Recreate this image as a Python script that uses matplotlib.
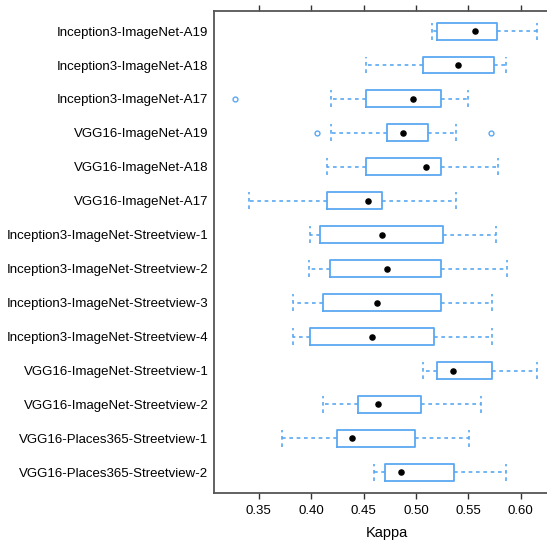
import numpy as np
import matplotlib.pyplot as plt

plt.rcParams['font.family'] = ['Liberation Sans', 'DejaVu Sans']

# models, top row first
labels = [
    "Inception3-ImageNet-A19",
    "Inception3-ImageNet-A18",
    "Inception3-ImageNet-A17",
    "VGG16-ImageNet-A19",
    "VGG16-ImageNet-A18",
    "VGG16-ImageNet-A17",
    "Inception3-ImageNet-Streetview-1",
    "Inception3-ImageNet-Streetview-2",
    "Inception3-ImageNet-Streetview-3",
    "Inception3-ImageNet-Streetview-4",
    "VGG16-ImageNet-Streetview-1",
    "VGG16-ImageNet-Streetview-2",
    "VGG16-Places365-Streetview-1",
    "VGG16-Places365-Streetview-2",
]
whisker_lo = [0.515, 0.452, 0.419, 0.419, 0.415, 0.341, 0.399, 0.398, 0.383, 0.383, 0.507, 0.411, 0.372, 0.460]
q1 = [0.520, 0.507, 0.452, 0.472, 0.452, 0.415, 0.408, 0.418, 0.411, 0.399, 0.520, 0.445, 0.425, 0.470]
median = [0.556, 0.540, 0.497, 0.488, 0.510, 0.454, 0.468, 0.472, 0.463, 0.458, 0.535, 0.464, 0.439, 0.486]
q3 = [0.577, 0.575, 0.524, 0.512, 0.524, 0.468, 0.526, 0.524, 0.524, 0.517, 0.573, 0.505, 0.499, 0.536]
whisker_hi = [0.616, 0.586, 0.550, 0.538, 0.578, 0.538, 0.576, 0.587, 0.573, 0.573, 0.616, 0.562, 0.551, 0.586]
outliers = [[], [], [0.327], [0.406, 0.572], [], [], [], [], [], [], [], [], [], []]

xticks = [0.35, 0.40, 0.45, 0.50, 0.55, 0.60]

blue = '#5aa8f2'
n = len(labels)
positions = np.arange(n, 0, -1)

stats = []
for i in range(n):
    stats.append(dict(label=labels[i], whislo=whisker_lo[i], q1=q1[i], med=median[i],
                      q3=q3[i], whishi=whisker_hi[i], mean=median[i], fliers=outliers[i]))

W, H = 547, 545
fig = plt.figure(figsize=(W / 100, H / 100), dpi=100)
left, right, top, bottom = 214, 559, 10.7, 492.7
ax = fig.add_axes([left / W, 1 - bottom / H, (right - left) / W, (bottom - top) / H])

dash = (0, (2.2, 2.2))
ax.bxp(stats, positions=positions, orientation='horizontal', widths=0.5, capwidths=0.5,
       showmeans=True, patch_artist=False,
       boxprops=dict(color=blue, linewidth=1.3),
       whiskerprops=dict(color=blue, linewidth=1.2, linestyle=dash),
       capprops=dict(color=blue, linewidth=1.2, linestyle=dash),
       medianprops=dict(linewidth=0, alpha=0),
       meanprops=dict(marker='o', markerfacecolor='black', markeredgecolor='black', markersize=3.7),
       flierprops=dict(marker='o', markerfacecolor='none', markeredgecolor=blue,
                       markersize=3.5, markeredgewidth=1.0))

ax.set_xlim(0.3072, 0.6366)
ax.set_ylim(0.4, n + 0.6)
ax.set_xticks(xticks)
ax.set_xticklabels([f"{t:.2f}" for t in xticks], fontsize=9.5)
ax.set_yticks(positions)
ax.set_yticklabels(labels, fontsize=9.5)
ax.tick_params(axis='x', direction='out', length=4.5, width=1, color='#333333',
               top=True, labeltop=False, pad=4)
ax.tick_params(axis='y', length=0, pad=4)
for s in ax.spines.values():
    s.set_color('#555555')
    s.set_linewidth(1.3)
ax.set_xlabel("Kappa", fontsize=10.5, labelpad=7)

fig.savefig("out.png", dpi=100)
